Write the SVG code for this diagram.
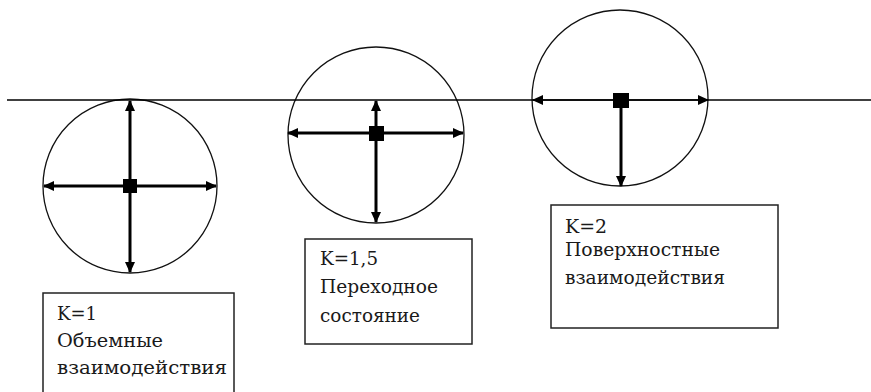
<svg xmlns="http://www.w3.org/2000/svg" width="871" height="392" viewBox="0 0 871 392">
<style>
.c{fill:none;stroke:#111;stroke-width:1.3}
.b{fill:#fff;stroke:#222;stroke-width:1.5}
.a{stroke:#000;stroke-width:3;fill:none}
.t{stroke:#000;stroke-width:1.5;fill:none}
.sq{fill:#000}
.tx{font-family:'DejaVu Serif','Liberation Serif',serif;font-size:18px;fill:#1a1a1a}
</style>
<defs>
<marker id="ah" markerUnits="userSpaceOnUse" markerWidth="11" markerHeight="10" refX="10" refY="5" orient="auto">
<path d="M0,0 L11,5 L0,10 Z" fill="#000"/>
</marker>
</defs>
<rect width="871" height="392" fill="#fff"/>
<g id="circle1"><circle class="c" cx="130" cy="186" r="87"/><rect class="sq" x="123" y="179" width="14" height="14"/></g>
<g id="circle2"><circle class="c" cx="376" cy="135" r="88"/><rect class="sq" x="369" y="126" width="15" height="15"/></g>
<g id="circle3"><circle class="c" cx="620" cy="98" r="88"/><rect class="sq" x="613" y="93" width="16" height="15"/></g>
<g id="connectors">
<line class="t" x1="7" y1="100" x2="871" y2="100"/>
<line class="a" x1="130" y1="186" x2="130" y2="101" marker-end="url(#ah)"/>
<line class="a" x1="130" y1="186" x2="130" y2="272" marker-end="url(#ah)"/>
<line class="a" x1="130" y1="186" x2="44" y2="186" marker-end="url(#ah)"/>
<line class="a" x1="130" y1="186" x2="216" y2="186" marker-end="url(#ah)"/>
<line class="a" x1="376" y1="133" x2="376" y2="101" marker-end="url(#ah)"/>
<line class="a" x1="376" y1="133" x2="376" y2="222" marker-end="url(#ah)"/>
<line class="a" x1="376" y1="133" x2="288" y2="133" marker-end="url(#ah)"/>
<line class="a" x1="376" y1="133" x2="463" y2="133" marker-end="url(#ah)"/>
<line class="t" x1="621" y1="100" x2="533" y2="100" marker-end="url(#ah)"/>
<line class="t" x1="621" y1="100" x2="708" y2="100" marker-end="url(#ah)"/>
<line class="a" x1="621" y1="100" x2="621" y2="186" marker-end="url(#ah)"/>
</g>
<g id="box1" class="tx"><rect class="b" x="43" y="293" width="191" height="110"/>
<text x="57" y="320" textLength="40" lengthAdjust="spacingAndGlyphs">K=1</text>
<text x="57" y="347" textLength="106" lengthAdjust="spacingAndGlyphs">Объемные</text>
<text x="57" y="374" textLength="170" lengthAdjust="spacingAndGlyphs">взаимодействия</text></g>
<g id="box2" class="tx"><rect class="b" x="305" y="239" width="167" height="105"/>
<text x="320" y="265" textLength="58" lengthAdjust="spacingAndGlyphs">K=1,5</text>
<text x="320" y="293" textLength="118" lengthAdjust="spacingAndGlyphs">Переходное</text>
<text x="320" y="322" textLength="100" lengthAdjust="spacingAndGlyphs">состояние</text></g>
<g id="box3" class="tx"><rect class="b" x="551" y="205" width="227" height="123"/>
<text x="565" y="233" textLength="42" lengthAdjust="spacingAndGlyphs">K=2</text>
<text x="565" y="256" textLength="155" lengthAdjust="spacingAndGlyphs">Поверхностные</text>
<text x="565" y="284" textLength="160" lengthAdjust="spacingAndGlyphs">взаимодействия</text></g>
</svg>
